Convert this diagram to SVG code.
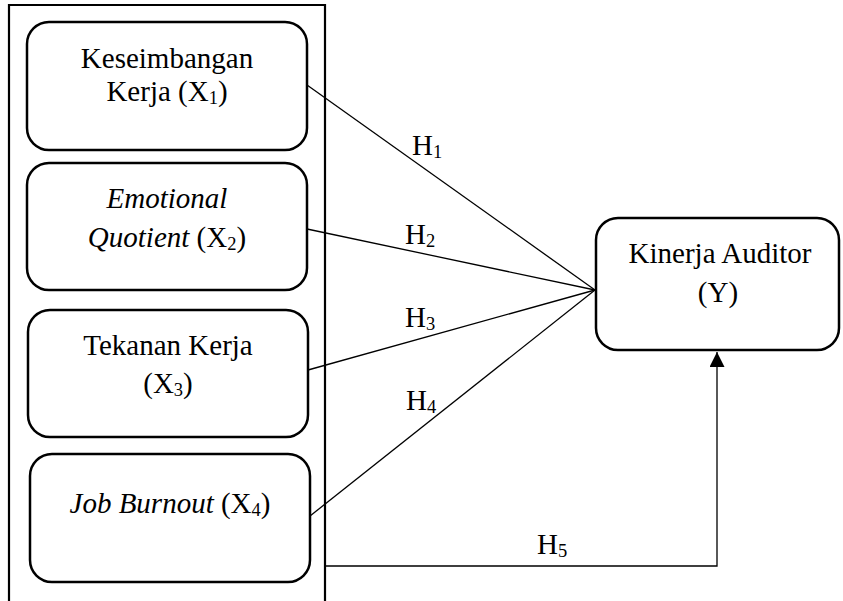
<svg xmlns="http://www.w3.org/2000/svg" width="843" height="601" viewBox="0 0 843 601">
<defs>
<style>
.node{fill:#fff;stroke:#000;stroke-width:2.5}
.frame{fill:none;stroke:#000;stroke-width:2.2}
.t{font-family:"Liberation Serif","Times New Roman",serif;font-size:29px;fill:#000;text-anchor:middle}
.h{font-family:"Liberation Serif","Times New Roman",serif;font-size:29px;fill:#000}
.sub{font-size:18.5px}
.i{font-style:italic}
.conn{fill:none;stroke:#000;stroke-width:1.3}
</style>
<marker id="arr" viewBox="0 0 10 10" refX="10" refY="5" markerWidth="15" markerHeight="15" markerUnits="userSpaceOnUse" orient="auto">
<path d="M0,0 L10,5 L0,10 Z" fill="#000"/>
</marker>
</defs>
<rect width="843" height="601" fill="#fff"/>
<path class="frame" d="M9,605 V5 H325 V605"/>
<g id="x1">
<rect class="node" x="27" y="22" width="280" height="128" rx="22"/>
<text class="t" x="167" y="68">Keseimbangan</text>
<text class="t" x="167" y="101">Kerja (X<tspan class="sub" dy="3">1</tspan><tspan dy="-3">)</tspan></text>
</g>
<g id="x2">
<rect class="node" x="27" y="163" width="280" height="127" rx="22"/>
<text class="t i" x="167" y="208">Emotional</text>
<text class="t" x="167" y="247"><tspan class="i">Quotient</tspan> (X<tspan class="sub" dy="3">2</tspan><tspan dy="-3">)</tspan></text>
</g>
<g id="x3">
<rect class="node" x="28" y="310" width="280" height="127" rx="22"/>
<text class="t" x="168" y="355">Tekanan Kerja</text>
<text class="t" x="168" y="393">(X<tspan class="sub" dy="3">3</tspan><tspan dy="-3">)</tspan></text>
</g>
<g id="x4">
<rect class="node" x="30" y="454" width="280" height="128" rx="22"/>
<text class="t" x="170" y="513"><tspan class="i">Job Burnout</tspan> (X<tspan class="sub" dy="3">4</tspan><tspan dy="-3">)</tspan></text>
</g>
<g id="y">
<rect class="node" x="596" y="218" width="243" height="132" rx="22"/>
<text class="t" x="720" y="263">Kinerja Auditor</text>
<text class="t" x="718" y="302">(Y)</text>
</g>
<g id="connectors">
<line class="conn" x1="307" y1="85" x2="595" y2="290"/>
<line class="conn" x1="307" y1="229" x2="595" y2="290"/>
<line class="conn" x1="308" y1="370" x2="595" y2="290"/>
<line class="conn" x1="310" y1="516" x2="595" y2="290"/>
<path class="conn" d="M325,566 H717 V352" marker-end="url(#arr)"/>
<text class="h" x="412" y="155">H<tspan class="sub" dy="3">1</tspan></text>
<text class="h" x="405" y="244">H<tspan class="sub" dy="3">2</tspan></text>
<text class="h" x="405" y="327">H<tspan class="sub" dy="3">3</tspan></text>
<text class="h" x="406" y="410">H<tspan class="sub" dy="3">4</tspan></text>
<text class="h" x="537" y="554">H<tspan class="sub" dy="3">5</tspan></text>
</g>
</svg>
